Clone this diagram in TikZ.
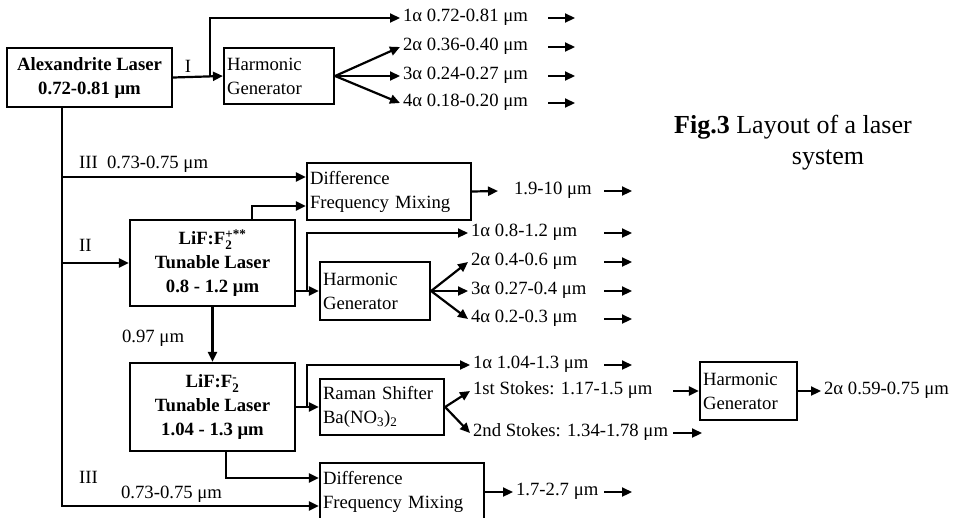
\documentclass[tikz,border=0pt]{standalone}
\usepackage{amsmath}
\usepackage{fontspec}
\setmainfont{Liberation Serif}
\usetikzlibrary{arrows.meta,positioning}
\newcommand{\bodysize}{\fontsize{18.7}{24}\selectfont}

\begin{document}
\begin{tikzpicture}[x=1pt,y=-1pt,line width=2.2pt,
    >={Triangle[length=10pt,width=9pt]},font=\bodysize,
    laser/.style={draw,font=\bodysize\bfseries,align=center,inner sep=2pt},
    unit/.style={draw,align=left,inner xsep=3pt,inner ysep=2pt},
    wave/.style={inner xsep=2pt,inner ysep=0pt,anchor=west,
      text height=0.68em,text depth=0pt}]
    \clip (0,0) rectangle (958,517);

    % lasers and converters
    \node[laser,minimum width=165pt,minimum height=59pt] (alex) at (89.5,77.5)
      {Alexandrite Laser\\0.72-0.81 μm};
    \node[unit,text width=104pt,minimum height=56pt] (hg1) at (279,76)
      {Harmonic\\Generator};
    \node[unit,text width=158pt,minimum height=57pt] (dfm1) at (389,191.5)
      {Difference\\Frequency Mixing};
    \node[laser,minimum width=165pt,minimum height=86pt] (lif1) at (212.5,263)
      {LiF:F$_{\text{2}}^{\text{+**}}$\\Tunable Laser\\0.8 - 1.2 μm};
    \node[unit,text width=104pt,minimum height=58pt] (hg2) at (375,291)
      {Harmonic\\Generator};
    \node[laser,minimum width=165pt,minimum height=88pt] (lif2) at (212.5,407)
      {LiF:F$_{\text{2}}^{\text{-}}$\\Tunable Laser\\1.04 - 1.3 μm};
    \node[unit,text width=118pt,minimum height=56pt] (raman) at (382,407)
      {Raman Shifter\\Ba(NO\textsubscript{3})\textsubscript{2}};
    \node[unit,text width=91pt,minimum height=58pt] (hg3) at (748.5,391)
      {Harmonic\\Generator};
    \node[unit,text width=158pt,minimum height=58pt] (dfm2) at (402,492)
      {Difference\\Frequency Mixing};

    % output wavelengths
    \node[wave] (o1) at (400,18) {1α 0.72-0.81 μm};
    \node[wave] (o2) at (400,47) {2α 0.36-0.40 μm};
    \node[wave] (o3) at (400,76) {3α 0.24-0.27 μm};
    \node[wave] (o4) at (400,103) {4α 0.18-0.20 μm};
    \node[wave] (o9) at (511,191) {1.9-10 μm};
    \node[wave] (o5) at (468,233) {1α 0.8-1.2 μm};
    \node[wave] (o6) at (468,262) {2α 0.4-0.6 μm};
    \node[wave] (o7) at (468,291) {3α 0.27-0.4 μm};
    \node[wave] (o8) at (468,319) {4α 0.2-0.3 μm};
    \node[wave] (o10) at (470,365) {1α 1.04-1.3 μm};
    \node[wave] (o11) at (470,391) {1st Stokes: 1.17-1.5 μm};
    \node[wave] (o12) at (470,433) {2nd Stokes: 1.34-1.78 μm};
    \node[wave] (o13) at (821,391) {2α 0.59-0.75 μm};
    \node[wave] (o14) at (513,492) {1.7-2.7 μm};

    \node[font=\fontsize{26}{33}\selectfont] (cap1) at (793,127)
      {\textbf{Fig.3} Layout of a laser};
    \node[font=\fontsize{26}{33}\selectfont] (cap2) at (828,160) {system};

    % pump branches
    \coordinate (trunk) at (62,507);
    \coordinate (split1) at (210,77);
    \coordinate (split2) at (307,291);
    \coordinate (split3) at (307,407);
    \coordinate (tailA) at (548,0);
    \coordinate (tailB) at (604,0);
    \coordinate (tailC) at (673,0);

    \draw[->] (alex.east) -- node[above,pos=0.3]{I} (hg1.west);
    \draw[->] (split1) |- (o1.west);
    \foreach \n in {o2,o3,o4} \draw[->] (hg1.east) -- (\n.west);

    \draw[->] (alex.south -| trunk) |- ([yshift=-14pt]dfm2.west);
    \draw[->] ([yshift=14.5pt]dfm1.west -| trunk) -- ([yshift=14.5pt]dfm1.west);
    \node[wave] (lbl3a) at (76,165) {III\ \ 0.73-0.75 μm};
    \draw[->] ([xshift=39.5pt]lif1.north) |- ([yshift=-14.5pt]dfm1.west);
    \draw[->] (lif1.west -| trunk) -- (lif1.west);
    \node[wave] (lbl2) at (76,248) {II};
    \node[wave] (lbl3b) at (76,480) {III};
    \node[wave] (lbl3c) at (118,495) {0.73-0.75 μm};

    \draw[->] (dfm1.east) -- ([xshift=-13pt]o9.west);
    \draw[->] (hg2.west -| lif1.east) -- (hg2.west);
    \draw[->] (split2) |- (o5.west);
    \foreach \n in {o6,o7,o8} \draw[->] (hg2.east) -- (\n.west);

    \draw[->] (lif1) -- node[left=24pt,pos=0.56]{0.97 μm} (lif2);
    \draw[->] (raman.west -| lif2.east) -- (raman.west);
    \draw[->] (split3) |- (o10.west);
    \foreach \n in {o11,o12} \draw[->] (raman.east) -- (\n.west);
    \draw[->] (o11.east -| tailC) -- (hg3.west);
    \draw[->] (hg3.east) -- (o13.west);
    \draw[->] ([xshift=13.5pt]lif2.south) |- ([yshift=14pt]dfm2.west);
    \draw[->] (dfm2.east) -- (o14.west);

    % trailing arrows
    \foreach \n in {o1,o2,o3,o4} \draw[->] (\n.east -| tailA) -- ++(27,0);
    \foreach \n in {o9,o5,o6,o7,o8,o10,o14} \draw[->] (\n.east -| tailB) -- ++(28,0);
    \draw[->] (o12.east -| tailC) -- ++(29,0);
\end{tikzpicture}
\end{document}
